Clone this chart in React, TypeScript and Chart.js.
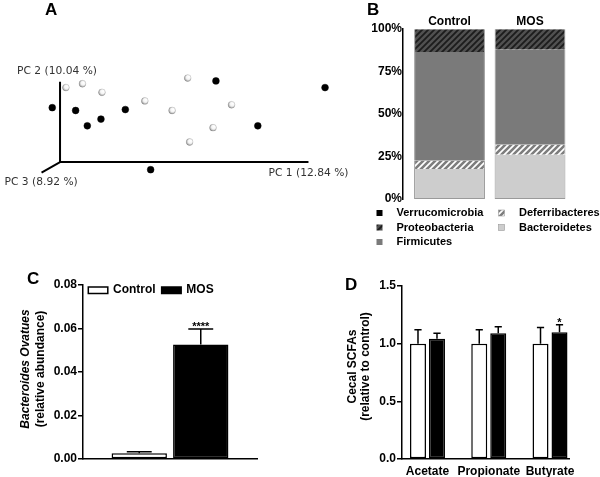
import React, { useEffect, useRef } from 'react';
import { Chart, registerables } from 'chart.js';

Chart.register(...registerables);

const ARIAL = "'Liberation Sans', Arial, Helvetica, sans-serif";
const DEJAVU = "'DejaVu Sans', Verdana, sans-serif";
Chart.defaults.font.family = ARIAL;

// ---------------- Panel A : PCoA scores (arbitrary units) ----------------
const pcAxisTitles = ['PC 1 (12.84 %)', 'PC 2 (10.04 %)', 'PC 3 (8.92 %)'];
const controlPC1 = [6, 23, 43, 87, 131, 115, 176, 157, 133];
const controlPC2 = [78, 82, 73, 64, 88, 54, 60, 36, 21];
const mosPC1 = [-8, 16, 28, 42, 67, 160, 272, 203, 93];
const mosPC2 = [57, 54, 38, 45, 55, 85, 78, 38, -8];

// ---------------- Panel B : phylum composition (%) ----------------
const groupNames = ['Control', 'MOS'];
const phylumNames = ['Bacteroidetes', 'Deferribacteres', 'Firmicutes', 'Proteobacteria', 'Verrucomicrobia'];
const bacteroidetesPct = [17.6, 26.1];
const deferribacteresPct = [4.9, 5.8];
const firmicutesPct = [64.0, 55.9];
const proteobacteriaPct = [13.4, 12.1];
const verrucomicrobiaPct = [0.1, 0.1];

// ---------------- Panel C : Bacteroides ovatus ----------------
const ovatusMean = [0.0026, 0.0527];
const ovatusSem = [0.0007, 0.0071];
const ovatusStars = ['', '****'];

// ---------------- Panel D : cecal SCFAs ----------------
const scfaNames = ['Acetate', 'Propionate', 'Butyrate'];
const scfaControl = [1.0, 1.0, 1.0];
const scfaControlSem = [0.12, 0.12, 0.14];
const scfaMos = [1.043, 1.09, 1.099];
const scfaMosSem = [0.047, 0.057, 0.066];
const scfaStars = ['', '', '*'];

function stripePattern(bg: string, fg: string, size: number, lw: number) {
  const c = document.createElement('canvas');
  c.width = size;
  c.height = size;
  const g = c.getContext('2d') as CanvasRenderingContext2D;
  g.fillStyle = bg;
  g.fillRect(0, 0, size, size);
  g.strokeStyle = fg;
  g.lineWidth = lw;
  g.beginPath();
  g.moveTo(-1, size + 1);
  g.lineTo(size + 1, -1);
  g.moveTo(-2, 2);
  g.lineTo(2, -2);
  g.moveTo(size - 2, size + 2);
  g.lineTo(size + 2, size - 2);
  g.stroke();
  return g.createPattern(c, 'repeat') as CanvasPattern;
}

const letterPlugin = {
  id: 'panelLetter',
  afterDraw(chart: any, _a: any, opts: any) {
    if (!opts || !opts.text) return;
    const ctx = chart.ctx;
    ctx.save();
    ctx.font = `bold 17px ${ARIAL}`;
    ctx.fillStyle = '#000';
    ctx.textAlign = 'left';
    ctx.textBaseline = 'alphabetic';
    ctx.fillText(opts.text, opts.x, opts.y);
    ctx.restore();
  },
};

const yTitlePlugin = {
  id: 'yTitles',
  afterDraw(chart: any, _a: any, opts: any) {
    if (!opts || !opts.lines) return;
    const ctx = chart.ctx;
    const cy = (chart.chartArea.top + chart.chartArea.bottom) / 2 + (opts.dy || 0);
    opts.lines.forEach((ln: any) => {
      ctx.save();
      ctx.translate(ln.x, cy);
      ctx.rotate(-Math.PI / 2);
      ctx.font = ln.font;
      ctx.fillStyle = '#000';
      ctx.textAlign = 'center';
      ctx.textBaseline = 'middle';
      ctx.fillText(ln.text, 0, 0);
      ctx.restore();
    });
  },
};

const errorBarPlugin = {
  id: 'errorBars',
  afterDatasetsDraw(chart: any) {
    const ctx = chart.ctx;
    const yScale = chart.scales.y;
    chart.data.datasets.forEach((ds: any, di: number) => {
      if (!ds.errors) return;
      const meta = chart.getDatasetMeta(di);
      meta.data.forEach((el: any, i: number) => {
        const raw = ds.data[i];
        const v = typeof raw === 'object' ? raw.y : raw;
        const e = ds.errors[i];
        const top = yScale.getPixelForValue(v + e);
        const cap = el.width * 0.45;
        ctx.save();
        ctx.strokeStyle = '#000';
        ctx.lineWidth = 1.5;
        ctx.beginPath();
        ctx.moveTo(el.x, el.y);
        ctx.lineTo(el.x, top);
        ctx.moveTo(el.x - cap / 2, top);
        ctx.lineTo(el.x + cap / 2, top);
        ctx.stroke();
        const star = ds.stars && ds.stars[i];
        if (star) {
          ctx.fillStyle = '#000';
          ctx.font = `bold 11px ${ARIAL}`;
          ctx.textAlign = 'center';
          ctx.textBaseline = 'alphabetic';
          ctx.fillText(star, el.x, top + 1);
        }
        ctx.restore();
      });
    });
  },
};

const pcaAxesPlugin = {
  id: 'pcaAxes',
  beforeDatasetsDraw(chart: any) {
    const ctx = chart.ctx;
    const x = chart.scales.x;
    const y = chart.scales.y;
    const ox = x.getPixelForValue(0);
    const oy = y.getPixelForValue(0);
    const x1 = x.getPixelForValue(255);
    const y2 = y.getPixelForValue(84);
    const x3 = x.getPixelForValue(-19);
    const y3 = y.getPixelForValue(-11);
    ctx.save();
    ctx.strokeStyle = '#000';
    ctx.lineWidth = 2;
    ctx.beginPath();
    ctx.moveTo(ox, y2);
    ctx.lineTo(ox, oy);
    ctx.lineTo(x1, oy);
    ctx.moveTo(ox, oy);
    ctx.lineTo(x3, y3);
    ctx.stroke();
    ctx.font = `10.7px ${DEJAVU}`;
    ctx.fillStyle = '#333';
    ctx.textAlign = 'left';
    ctx.textBaseline = 'middle';
    ctx.fillText(pcAxisTitles[1], ox - 43, y2 - 11);
    ctx.fillText(pcAxisTitles[0], x1 - 40, oy + 11);
    ctx.fillText(pcAxisTitles[2], x3 - 37, y3 + 10);
    ctx.restore();
  },
};

function lightPoint(c: any) {
  try {
    const chart = c.chart;
    const p = c.parsed;
    if (!p || !chart.scales || !chart.scales.x || !chart.chartArea) return '#eeeeee';
    const px = chart.scales.x.getPixelForValue(p.x);
    const py = chart.scales.y.getPixelForValue(p.y);
    if (!isFinite(px) || !isFinite(py)) return '#eeeeee';
    const g = chart.ctx.createRadialGradient(px + 1.2, py - 1.2, 0.3, px + 0.3, py - 0.3, 4);
    g.addColorStop(0, '#ffffff');
    g.addColorStop(0.5, '#f4f4f4');
    g.addColorStop(0.8, '#b8b8b8');
    g.addColorStop(1, '#6e6e6e');
    return g;
  } catch (e) {
    return '#eeeeee';
  }
}

export default function App() {
  const aRef = useRef<HTMLCanvasElement>(null);
  const bRef = useRef<HTMLCanvasElement>(null);
  const cRef = useRef<HTMLCanvasElement>(null);
  const dRef = useRef<HTMLCanvasElement>(null);

  useEffect(() => {
    const charts: Chart[] = [];

    // ---------- Panel A ----------
    charts.push(
      new Chart(aRef.current as HTMLCanvasElement, {
        type: 'scatter',
        data: {
          datasets: [
            {
              label: 'Control',
              data: controlPC1.map((v, i) => ({ x: v, y: controlPC2[i] })),
              pointRadius: 3.4,
              backgroundColor: lightPoint as any,
              borderColor: 'rgba(120,120,120,0.6)',
              borderWidth: 0.4,
            },
            {
              label: 'MOS',
              data: mosPC1.map((v, i) => ({ x: v, y: mosPC2[i] })),
              pointRadius: 3.4,
              backgroundColor: '#000',
              borderColor: '#000',
              borderWidth: 0.5,
            },
          ],
        },
        options: {
          responsive: false,
          animation: false,
          layout: { padding: 0 },
          scales: {
            x: { type: 'linear', display: false, min: -57, max: 293 },
            y: { type: 'linear', display: false, min: -35, max: 165 },
          },
          plugins: {
            legend: { display: false },
            tooltip: { enabled: false },
            panelLetter: { text: 'A', x: 45, y: 15 },
          } as any,
        },
        plugins: [pcaAxesPlugin, letterPlugin],
      })
    );

    // ---------- Panel B ----------
    const proteoPat = stripePattern('#515151', '#1c1c1c', 6, 1.8);
    const deferPat = stripePattern('#ffffff', '#7d7d7d', 6, 2.6);
    const phylumColors: any[] = ['#cdcdcd', deferPat, '#7a7a7a', proteoPat, '#000000'];
    const phylumValues = [bacteroidetesPct, deferribacteresPct, firmicutesPct, proteobacteriaPct, verrucomicrobiaPct];

    const bLegendPlugin = {
      id: 'bLegend',
      afterDraw(chart: any) {
        const ctx = chart.ctx;
        const items = [
          { i: 4, col: 0, row: 0 },
          { i: 3, col: 0, row: 1 },
          { i: 2, col: 0, row: 2 },
          { i: 1, col: 1, row: 0 },
          { i: 0, col: 1, row: 1 },
        ];
        const rowY = [213, 227.5, 242];
        const swX = [26.5, 148.5];
        const txX = [46.5, 169];
        ctx.save();
        ctx.font = `bold 11px ${ARIAL}`;
        ctx.textBaseline = 'middle';
        ctx.textAlign = 'left';
        items.forEach((it) => {
          const y = rowY[it.row];
          ctx.fillStyle = phylumColors[it.i];
          ctx.fillRect(swX[it.col], y - 3, 6, 6);
          if (it.i <= 1) {
            ctx.strokeStyle = '#999';
            ctx.lineWidth = 0.6;
            ctx.strokeRect(swX[it.col], y - 3, 6, 6);
          }
          ctx.fillStyle = '#000';
          ctx.fillText(phylumNames[it.i], txX[it.col], y);
        });
        ctx.restore();
      },
    };

    charts.push(
      new Chart(bRef.current as HTMLCanvasElement, {
        type: 'bar',
        data: {
          datasets: phylumNames.map((name, k) => ({
            label: name,
            data: phylumValues[k].map((v, i) => ({ x: i, y: v })),
            backgroundColor: phylumColors[k],
            borderColor: '#9a9a9a',
            borderWidth: { left: 1, right: 1, top: 0, bottom: k === 0 ? 1 : 0 },
            borderSkipped: false,
            barPercentage: 0.88,
            categoryPercentage: 1,
          })) as any,
        },
        options: {
          responsive: false,
          animation: false,
          layout: { padding: { left: 0, top: 0, right: 20, bottom: 56 } },
          scales: {
            x: {
              type: 'linear',
              position: 'top',
              offset: false,
              stacked: true,
              min: -0.578,
              max: 1.621,
              grid: { display: false, drawTicks: false, offset: false },
              border: { display: false },
              ticks: {
                padding: 0,
                color: '#000',
                autoSkip: false,
                font: { size: 12, weight: 'bold' },
                maxRotation: 0,
                callback: (v: any) => groupNames[v] ?? '',
              },
              afterBuildTicks: (s: any) => {
                s.ticks = groupNames.map((_, i) => ({ value: i }));
              },
              afterFit: (s: any) => {
                s.height = 29;
              },
            } as any,
            y: {
              stacked: true,
              min: 0,
              max: 100,
              grid: { display: false, drawTicks: false },
              border: { display: true, color: '#000', width: 1.5 },
              ticks: {
                stepSize: 25,
                padding: 1,
                color: '#000',
                font: { size: 12, weight: 'bold' },
                callback: (v: any) => v + '%',
              },
              afterFit: (s: any) => {
                s.width = 53;
              },
            } as any,
          },
          plugins: {
            legend: { display: false },
            tooltip: { enabled: false },
            panelLetter: { text: 'B', x: 17, y: 15 },
          } as any,
        },
        plugins: [bLegendPlugin, letterPlugin],
      })
    );

    // ---------- Panel C ----------
    const cLegendPlugin = {
      id: 'cLegend',
      afterDraw(chart: any) {
        const ctx = chart.ctx;
        const area = chart.chartArea;
        let x = area.left + 5.3;
        const y = area.top + 5;
        ctx.save();
        ctx.font = `bold 12px ${ARIAL}`;
        ctx.textBaseline = 'middle';
        ctx.textAlign = 'left';
        chart.data.datasets.forEach((ds: any) => {
          ctx.fillStyle = ds.backgroundColor;
          ctx.fillRect(x, y - 3, 19.5, 6.5);
          ctx.strokeStyle = '#000';
          ctx.lineWidth = 1.5;
          ctx.strokeRect(x, y - 3, 19.5, 6.5);
          x += 24.7;
          ctx.fillStyle = '#000';
          ctx.fillText(ds.label, x, y);
          x += ctx.measureText(ds.label).width + 6;
        });
        ctx.restore();
      },
    };

    charts.push(
      new Chart(cRef.current as HTMLCanvasElement, {
        type: 'bar',
        data: {
          labels: ['Bacteroides Ovatues'],
          datasets: groupNames.map((name, k) => ({
            label: name,
            data: [ovatusMean[k]],
            errors: [ovatusSem[k]],
            stars: [ovatusStars[k]],
            backgroundColor: k === 0 ? '#ffffff' : '#000000',
            borderColor: '#000',
            borderWidth: 1.5,
            borderSkipped: false,
            barPercentage: 0.9,
            categoryPercentage: 0.707,
          })) as any,
        },
        options: {
          responsive: false,
          animation: false,
          layout: { padding: { left: 0, top: 25, right: 43, bottom: 0 } },
          scales: {
            x: {
              grid: { display: false, drawTicks: false },
              border: { display: true, color: '#000', width: 1.5 },
              ticks: { display: false },
              afterFit: (s: any) => {
                s.height = 18;
              },
            } as any,
            y: {
              min: 0,
              max: 0.08,
              grid: { display: true, drawOnChartArea: false, drawTicks: true, tickLength: 5, color: '#000', lineWidth: 1.5 },
              border: { display: true, color: '#000', width: 1.5 },
              ticks: {
                stepSize: 0.02,
                padding: 1,
                color: '#000',
                font: { size: 12, weight: 'bold' },
                callback: (v: any) => Number(v).toFixed(2),
              },
              afterFit: (s: any) => {
                s.width = 83;
              },
            } as any,
          },
          plugins: {
            legend: { display: false },
            tooltip: { enabled: false },
            panelLetter: { text: 'C', x: 27, y: 24 },
            yTitles: {
              dy: -3,
              lines: [
                { text: 'Bacteroides Ovatues', x: 26, font: `italic bold 12px ${ARIAL}` },
                { text: '(relative abundance)', x: 40.5, font: `bold 12px ${ARIAL}` },
              ],
            },
          } as any,
        },
        plugins: [errorBarPlugin, cLegendPlugin, letterPlugin, yTitlePlugin],
      })
    );

    // ---------- Panel D ----------
    const scfaMeans = [scfaControl, scfaMos];
    const scfaSems = [scfaControlSem, scfaMosSem];
    charts.push(
      new Chart(dRef.current as HTMLCanvasElement, {
        type: 'bar',
        data: {
          datasets: groupNames.map((name, k) => ({
            label: name,
            data: scfaMeans[k].map((v, i) => ({ x: i, y: v })),
            errors: scfaSems[k],
            stars: k === 1 ? scfaStars : undefined,
            backgroundColor: k === 0 ? '#ffffff' : '#000000',
            borderColor: '#000',
            borderWidth: 1.5,
            borderSkipped: false,
            barPercentage: 0.842,
            categoryPercentage: 0.62,
          })) as any,
        },
        options: {
          responsive: false,
          animation: false,
          layout: { padding: { left: 0, top: 26, right: 31, bottom: 0 } },
          scales: {
            x: {
              type: 'linear',
              offset: false,
              min: -0.416,
              max: 2.31,
              grid: { display: false, drawTicks: false, offset: false },
              border: { display: true, color: '#000', width: 1.5 },
              ticks: {
                padding: 5,
                color: '#000',
                autoSkip: false,
                maxRotation: 0,
                font: { size: 12, weight: 'bold' },
                callback: (v: any) => scfaNames[v] ?? '',
              },
              afterBuildTicks: (s: any) => {
                s.ticks = scfaNames.map((_, i) => ({ value: i }));
              },
              afterFit: (s: any) => {
                s.height = 18;
              },
            } as any,
            y: {
              min: 0,
              max: 1.5,
              grid: { display: true, drawOnChartArea: false, drawTicks: true, tickLength: 5, color: '#000', lineWidth: 1.5 },
              border: { display: true, color: '#000', width: 1.5 },
              ticks: {
                stepSize: 0.5,
                padding: 1,
                color: '#000',
                font: { size: 12, weight: 'bold' },
                callback: (v: any) => Number(v).toFixed(1),
              },
              afterFit: (s: any) => {
                s.width = 102;
              },
            } as any,
          },
          plugins: {
            legend: { display: false },
            tooltip: { enabled: false },
            panelLetter: { text: 'D', x: 45, y: 30 },
            yTitles: {
              dy: -6,
              lines: [
                { text: 'Cecal SCFAs', x: 53, font: `bold 12px ${ARIAL}` },
                { text: '(relative to control)', x: 66, font: `bold 12px ${ARIAL}` },
              ],
            },
          } as any,
        },
        plugins: [errorBarPlugin, letterPlugin, yTitlePlugin],
      })
    );

    return () => {
      charts.forEach((c) => c.destroy());
    };
  }, []);

  const abs = (l: number, t: number): React.CSSProperties => ({ position: 'absolute', left: l, top: t });

  return (
    <div style={{ position: 'fixed', left: 0, top: 0, width: 600, height: 477, background: '#fff', overflow: 'hidden' }}>
      <canvas ref={aRef} width={350} height={200} style={abs(0, 0)} />
      <canvas ref={bRef} width={250} height={255} style={abs(350, 0)} />
      <canvas ref={cRef} width={300} height={217} style={abs(0, 260)} />
      <canvas ref={dRef} width={300} height={217} style={abs(300, 260)} />
    </div>
  );
}
